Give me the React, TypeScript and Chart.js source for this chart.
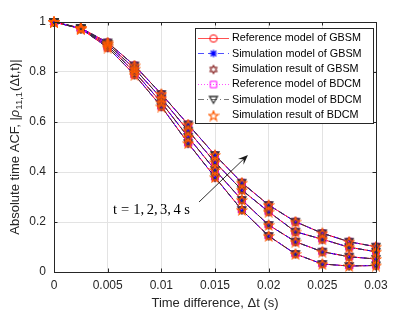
import React, { useEffect, useRef } from 'react';
import { Chart, registerables } from 'chart.js';
Chart.register(...registerables);

// ---- data ----
const timeDiff = [0, 0.0025, 0.005, 0.0075, 0.01, 0.0125, 0.015, 0.0175, 0.02, 0.0225, 0.025, 0.0275, 0.03];
const acfT1 = [1, 0.973, 0.898, 0.789, 0.662, 0.515, 0.379, 0.248, 0.144, 0.072, 0.032, 0.024, 0.026];
const acfT2 = [1, 0.974, 0.905, 0.8, 0.678, 0.54, 0.408, 0.288, 0.188, 0.121, 0.081, 0.061, 0.052];
const acfT3 = [1, 0.975, 0.912, 0.813, 0.695, 0.565, 0.439, 0.328, 0.241, 0.161, 0.131, 0.099, 0.081];
const acfT4 = [1, 0.976, 0.918, 0.826, 0.712, 0.59, 0.468, 0.357, 0.268, 0.201, 0.155, 0.121, 0.101];
const curves = [acfT1, acfT2, acfT3, acfT4];

const xTickValues = [0, 0.005, 0.01, 0.015, 0.02, 0.025, 0.03];
const xTickLabels = ['0', '0.005', '0.01', '0.015', '0.02', '0.025', '0.03'];
const yTickValues = [0, 0.2, 0.4, 0.6, 0.8, 1];
const yTickLabels = ['0', '0.2', '0.4', '0.6', '0.8', '1'];

const legendLabels = [
  'Reference model of GBSM',
  'Simulation model of GBSM',
  'Simulation result of GBSM',
  'Reference model of BDCM',
  'Simulation model of BDCM',
  'Simulation result of BDCM',
];
const xTitle = 'Time difference, \u0394t (s)';
const annotationText = 't=1,2,3,4 s';

// ---- styles ----
const seriesStyles = [
  { color: '#ff0000', legendLine: '#ff5050', dash: [], line: true, marker: 'circle' },
  { color: '#0000ff', legendLine: '#5050ff', dash: [6, 4], line: true, marker: 'asterisk' },
  { color: '#8b2a2a', legendLine: '', dash: [], line: false, marker: 'hexagram' },
  { color: '#ff00ff', legendLine: '#ff50ff', dash: [1, 2], line: true, marker: 'square' },
  { color: '#333333', legendLine: '#777777', dash: [6, 3, 1, 3], line: true, marker: 'triangleDown' },
  { color: '#ff5a00', legendLine: '', dash: [], line: false, marker: 'pentagram' },
];

const AX = '#262626';
const SANS = '"Liberation Sans", Arial, Helvetica, sans-serif';

function makeMarker(kind: string, color: string): HTMLCanvasElement {
  const size = 12;
  const c = document.createElement('canvas');
  c.width = size;
  c.height = size;
  const g = c.getContext('2d')!;
  const m = size / 2;
  g.strokeStyle = color;
  g.fillStyle = color;
  g.lineWidth = 1;
  g.beginPath();
  if (kind === 'circle') {
    g.arc(m, m, 3.7, 0, Math.PI * 2);
    g.stroke();
  } else if (kind === 'asterisk') {
    const r = 3.7;
    g.moveTo(m - r, m); g.lineTo(m + r, m);
    g.moveTo(m, m - r); g.lineTo(m, m + r);
    const d = r * 0.75;
    g.moveTo(m - d, m - d); g.lineTo(m + d, m + d);
    g.moveTo(m - d, m + d); g.lineTo(m + d, m - d);
    g.lineWidth = 1.2;
    g.stroke();
  } else if (kind === 'hexagram') {
    const r = 4.4;
    for (let t = 0; t < 2; t++) {
      const off = t === 0 ? -Math.PI / 2 : Math.PI / 2;
      for (let i = 0; i < 3; i++) {
        const a = off + (i * 2 * Math.PI) / 3;
        const x = m + r * Math.cos(a);
        const y = m + r * Math.sin(a);
        if (i === 0) g.moveTo(x, y); else g.lineTo(x, y);
      }
      g.closePath();
    }
    g.stroke();
  } else if (kind === 'square') {
    g.rect(m - 3.2, m - 3.2, 6.4, 6.4);
    g.stroke();
  } else if (kind === 'triangleDown') {
    g.moveTo(m - 4, m - 3);
    g.lineTo(m + 4, m - 3);
    g.lineTo(m, m + 3.8);
    g.closePath();
    g.lineWidth = 1.3;
    g.stroke();
  } else if (kind === 'pentagram') {
    const ro = 5, ri = 2.1;
    for (let i = 0; i < 10; i++) {
      const a = -Math.PI / 2 + (i * Math.PI) / 5;
      const r = i % 2 === 0 ? ro : ri;
      const x = m + r * Math.cos(a);
      const y = m + 0.5 + r * Math.sin(a);
      if (i === 0) g.moveTo(x, y); else g.lineTo(x, y);
    }
    g.closePath();
    g.lineWidth = 1.2;
    g.stroke();
  }
  return c;
}

export default function App() {
  const ref = useRef<HTMLCanvasElement | null>(null);

  useEffect(() => {
    const canvas = ref.current;
    if (!canvas) return;
    const markers = seriesStyles.map((s) => makeMarker(s.marker, s.color));

    const datasets: any[] = [];
    seriesStyles.forEach((s, si) => {
      curves.forEach((cv, ci) => {
        datasets.push({
          label: legendLabels[si] + ' ' + ci,
          data: timeDiff.map((x, i) => ({ x, y: cv[i] })),
          borderColor: s.color,
          backgroundColor: s.color,
          borderWidth: 1,
          borderDash: s.dash,
          showLine: s.line,
          pointStyle: markers[si],
          pointRadius: 4,
          pointHoverRadius: 4,
          tension: 0,
          clip: false,
          order: seriesStyles.length - 1 - si,
        });
      });
    });

    const overlay = {
      id: 'overlay',
      afterDraw(chart: any) {
        const ctx = chart.ctx as CanvasRenderingContext2D;
        const { left, right, top, bottom } = chart.chartArea;
        const xs = chart.scales.x;
        const ys = chart.scales.y;
        ctx.save();

        // box
        ctx.strokeStyle = AX;
        ctx.lineWidth = 1;
        ctx.beginPath();
        ctx.rect(Math.round(left) + 0.5, Math.round(top) + 0.5, Math.round(right - left), Math.round(bottom - top));
        ctx.stroke();

        // inward ticks
        const tl = 3.5;
        ctx.beginPath();
        xTickValues.forEach((v) => {
          const px = Math.round(xs.getPixelForValue(v)) + 0.5;
          ctx.moveTo(px, bottom); ctx.lineTo(px, bottom - tl);
          ctx.moveTo(px, top); ctx.lineTo(px, top + tl);
        });
        yTickValues.forEach((v) => {
          const py = Math.round(ys.getPixelForValue(v)) + 0.5;
          ctx.moveTo(left, py); ctx.lineTo(left + tl, py);
          ctx.moveTo(right, py); ctx.lineTo(right - tl, py);
        });
        ctx.stroke();

        // x title
        ctx.fillStyle = AX;
        ctx.font = `13px ${SANS}`;
        ctx.textAlign = 'center';
        ctx.textBaseline = 'middle';
        ctx.fillText(xTitle, (left + right) / 2, 303);

        // y title (rotated, with subscript)
        const segs = [
          { t: 'Absolute time ACF, |', f: `13px ${SANS}`, dy: 0 },
          { t: '\u03C1', f: `italic 13px ${SANS}`, dy: 0 },
          { t: '11,1', f: `9.5px ${SANS}`, dy: 4 },
          { t: '(\u0394t,t)|', f: `13px ${SANS}`, dy: 0 },
        ];
        let total = 0;
        const widths = segs.map((s) => {
          ctx.font = s.f;
          const w = ctx.measureText(s.t).width + (s.dy ? 1 : 0);
          total += w;
          return w;
        });
        ctx.save();
        ctx.translate(15, (top + bottom) / 2);
        ctx.rotate(-Math.PI / 2);
        ctx.textAlign = 'left';
        ctx.textBaseline = 'middle';
        let cx = -total / 2;
        segs.forEach((s, i) => {
          ctx.font = s.f;
          ctx.fillText(s.t, cx, s.dy);
          cx += widths[i];
        });
        ctx.restore();

        // annotation arrow
        const ax0 = xs.getPixelForValue(0.01351), ay0 = ys.getPixelForValue(0.28);
        const ax1 = xs.getPixelForValue(0.01807), ay1 = ys.getPixelForValue(0.468);
        const ang = Math.atan2(ay1 - ay0, ax1 - ax0);
        ctx.strokeStyle = '#1a1a1a';
        ctx.fillStyle = '#1a1a1a';
        ctx.lineWidth = 0.9;
        ctx.beginPath();
        ctx.moveTo(ax0, ay0);
        ctx.lineTo(ax1 - 5 * Math.cos(ang), ay1 - 5 * Math.sin(ang));
        ctx.stroke();
        const hl = 10, hw = 4;
        const bx = ax1 - hl * Math.cos(ang), by = ay1 - hl * Math.sin(ang);
        const nx = -Math.sin(ang), ny = Math.cos(ang);
        const ix = ax1 - hl * 0.6 * Math.cos(ang), iy = ay1 - hl * 0.6 * Math.sin(ang);
        ctx.beginPath();
        ctx.moveTo(ax1, ay1);
        ctx.lineTo(bx + nx * hw, by + ny * hw);
        ctx.lineTo(ix, iy);
        ctx.lineTo(bx - nx * hw, by - ny * hw);
        ctx.closePath();
        ctx.fill();

        // annotation text (math-style spacing)
        const fs = 14.5;
        ctx.fillStyle = '#000';
        ctx.font = `${fs}px "Liberation Serif", "Times New Roman", serif`;
        ctx.textAlign = 'left';
        ctx.textBaseline = 'alphabetic';
        const tx = xs.getPixelForValue(0.0055), ty = ys.getPixelForValue(0.232);
        const chars = Array.from(annotationText);
        let px = tx;
        chars.forEach((ch, i) => {
          ctx.fillText(ch, px, ty);
          px += ctx.measureText(ch).width;
          const next = chars[i + 1];
          if (ch === '=' || next === '=') px += 0.28 * fs;
          else if (ch === ',') px += 0.17 * fs;
        });

        // legend
        const lx0 = 195.5, ly0 = 28.5, lw = 178, lh = 95;
        ctx.fillStyle = '#ffffff';
        ctx.fillRect(lx0, ly0, lw, lh);
        ctx.strokeStyle = AX;
        ctx.lineWidth = 1;
        ctx.strokeRect(lx0, ly0, lw, lh);
        ctx.font = `10.8px ${SANS}`;
        ctx.textBaseline = 'middle';
        ctx.textAlign = 'left';
        seriesStyles.forEach((s, i) => {
          const yy = 38 + i * 15.3;
          if (s.line) {
            ctx.strokeStyle = s.legendLine;
            ctx.lineWidth = 1;
            ctx.setLineDash(s.dash);
            ctx.beginPath();
            ctx.moveTo(198, Math.round(yy) + 0.5);
            ctx.lineTo(229, Math.round(yy) + 0.5);
            ctx.stroke();
            ctx.setLineDash([]);
          }
          const mk = markers[i];
          ctx.drawImage(mk, 213.5 - mk.width / 2, Math.round(yy) + 0.5 - mk.height / 2);
          ctx.fillStyle = '#000';
          ctx.fillText(legendLabels[i], 232, yy + 0.5);
        });

        ctx.restore();
      },
    };

    const chart = new Chart(canvas, {
      type: 'line',
      data: { datasets },
      options: {
        animation: false,
        responsive: false,
        events: [],
        layout: { padding: { top: 22, right: 39, left: 0, bottom: 0 } },
        plugins: { legend: { display: false }, tooltip: { enabled: false } },
        scales: {
          x: {
            type: 'linear',
            min: 0,
            max: 0.03,
            afterBuildTicks: (scale: any) => {
              scale.ticks = xTickValues.map((v) => ({ value: v }));
            },
            afterFit: (scale: any) => {
              scale.height = 40;
            },
            ticks: {
              callback: (_v: any, i: number) => xTickLabels[i],
              font: { size: 12, family: SANS },
              color: AX,
              padding: 6,
              maxRotation: 0,
              autoSkip: false,
            },
            grid: { color: '#e3e3e3', drawTicks: false, lineWidth: 1 },
            border: { display: false },
          },
          y: {
            type: 'linear',
            min: 0,
            max: 1,
            afterBuildTicks: (scale: any) => {
              scale.ticks = yTickValues.map((v) => ({ value: v }));
            },
            afterFit: (scale: any) => {
              scale.width = 54;
            },
            ticks: {
              callback: (_v: any, i: number) => yTickLabels[i],
              font: { size: 12, family: SANS },
              color: AX,
              padding: 8,
              autoSkip: false,
            },
            grid: { color: '#e3e3e3', drawTicks: false, lineWidth: 1 },
            border: { display: false },
          },
        },
      },
      plugins: [overlay],
    });
    return () => chart.destroy();
  }, []);

  return (
    <div style={{ position: 'absolute', left: 0, top: 0, width: 415, height: 312, background: '#fff' }}>
      <canvas ref={ref} width={415} height={312} style={{ display: 'block' }} />
    </div>
  );
}
